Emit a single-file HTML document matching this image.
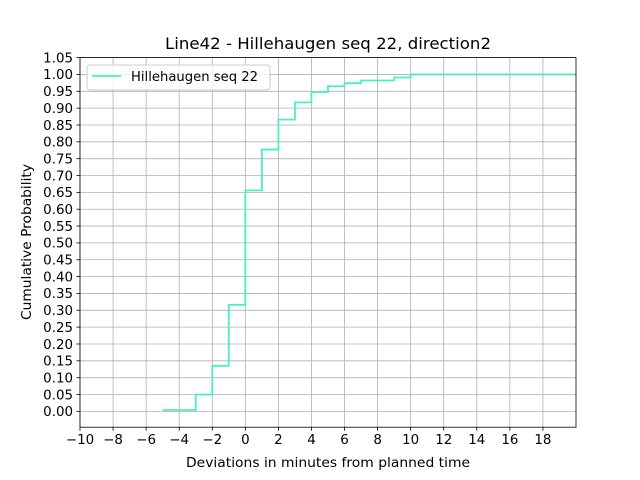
<!DOCTYPE html>
<html><head><meta charset="utf-8"><style>
body{margin:0;background:#fff;}
svg{display:block;font-family:"DejaVu Sans","Liberation Sans",sans-serif;}
</style></head><body>
<svg id="chart" width="640" height="480" viewBox="0 0 640 480">
<rect width="640" height="480" fill="#fff"/>
<g id="grid"></g>
<g id="series"></g>
<rect x="80" y="57.6" width="496" height="369.6" fill="none" stroke="#000" stroke-width="0.8"/>
<g id="ticks"></g>
<text x="328" y="49" text-anchor="middle" font-size="16" textLength="326" lengthAdjust="spacingAndGlyphs">Line42 - Hillehaugen seq 22, direction2</text>
<text x="328" y="467" text-anchor="middle" font-size="13.5" textLength="284" lengthAdjust="spacingAndGlyphs">Deviations in minutes from planned time</text>
<text transform="translate(31,242) rotate(-90)" text-anchor="middle" font-size="13.5" textLength="156" lengthAdjust="spacingAndGlyphs">Cumulative Probability</text>
<g>
<rect x="87" y="65" width="183" height="25" rx="3" fill="#fff" fill-opacity="0.8" stroke="#ccc"/>
<line x1="92" y1="76" x2="121" y2="76" stroke="#48f0c8" stroke-width="1.8"/>
<text x="131" y="81" font-size="13.2" textLength="127" lengthAdjust="spacingAndGlyphs">Hillehaugen seq 22</text>
</g>
</svg>
<script>
const stepX = [-5, -3, -2, -1, 0, 1, 2, 3, 4, 5, 6, 7, 9, 10];
const stepY = [0.004, 0.050, 0.135, 0.316, 0.656, 0.777, 0.866, 0.917, 0.948, 0.965, 0.974, 0.982, 0.991, 1.0];
const xEnd = 20;
const xTicks = [-10,-8,-6,-4,-2,0,2,4,6,8,10,12,14,16,18];
const yTicks = [0,0.05,0.1,0.15,0.2,0.25,0.3,0.35,0.4,0.45,0.5,0.55,0.6,0.65,0.7,0.75,0.8,0.85,0.9,0.95,1.0,1.05];
const X0=80,X1=576,Y0=427.2,Y1=57.6,xmin=-10,xmax=20,ymin=-0.047,ymax=1.05;
const sx=v=>X0+(v-xmin)/(xmax-xmin)*(X1-X0);
const sy=v=>Y0-(v-ymin)/(ymax-ymin)*(Y0-Y1);
const NS="http://www.w3.org/2000/svg";
const grid=document.getElementById('grid'),ticks=document.getElementById('ticks'),series=document.getElementById('series');
function mk(tag,attrs,parent){const e=document.createElementNS(NS,tag);for(const k in attrs)e.setAttribute(k,attrs[k]);parent.appendChild(e);return e;}
xTicks.forEach(t=>{
  const x=sx(t);
  const g=mk('line',{x1:x,x2:x,y1:Y1,y2:Y0,stroke:'#b0b0b0','stroke-width':0.8},grid);
  
  
  const tk=mk('line',{x1:x,x2:x,y1:Y0,y2:Y0+3.5,stroke:'#000','stroke-width':0.8},ticks);
  
  
  const lb=mk('text',{x:x,y:Y0+17,'text-anchor':'middle','font-size':13.4},ticks);
  lb.textContent=(t<0?'\u2212'+(-t):String(t));
  
  
});
yTicks.forEach(t=>{
  const y=sy(t);
  const g=mk('line',{x1:X0,x2:X1,y1:y,y2:y,stroke:'#b0b0b0','stroke-width':0.8},grid);
  
  
  const tk=mk('line',{x1:X0-3.5,x2:X0,y1:y,y2:y,stroke:'#000','stroke-width':0.8},ticks);
  
  
  const lb=mk('text',{x:X0-7,y:y+4.8,'text-anchor':'end','font-size':13.4},ticks);
  lb.textContent=t.toFixed(2);
  
  
});
let d='';
for(let i=0;i<stepX.length;i++){
  const x=sx(stepX[i]),y=sy(stepY[i]);
  const nx=sx(i+1<stepX.length?stepX[i+1]:xEnd);
  d+=(i===0?'M':'L')+x+','+y+' L'+nx+','+y+' ';
}
const p=mk('path',{d:d,fill:'none',stroke:'#48f0c8','stroke-width':1.8},series);


</script>
</body></html>
